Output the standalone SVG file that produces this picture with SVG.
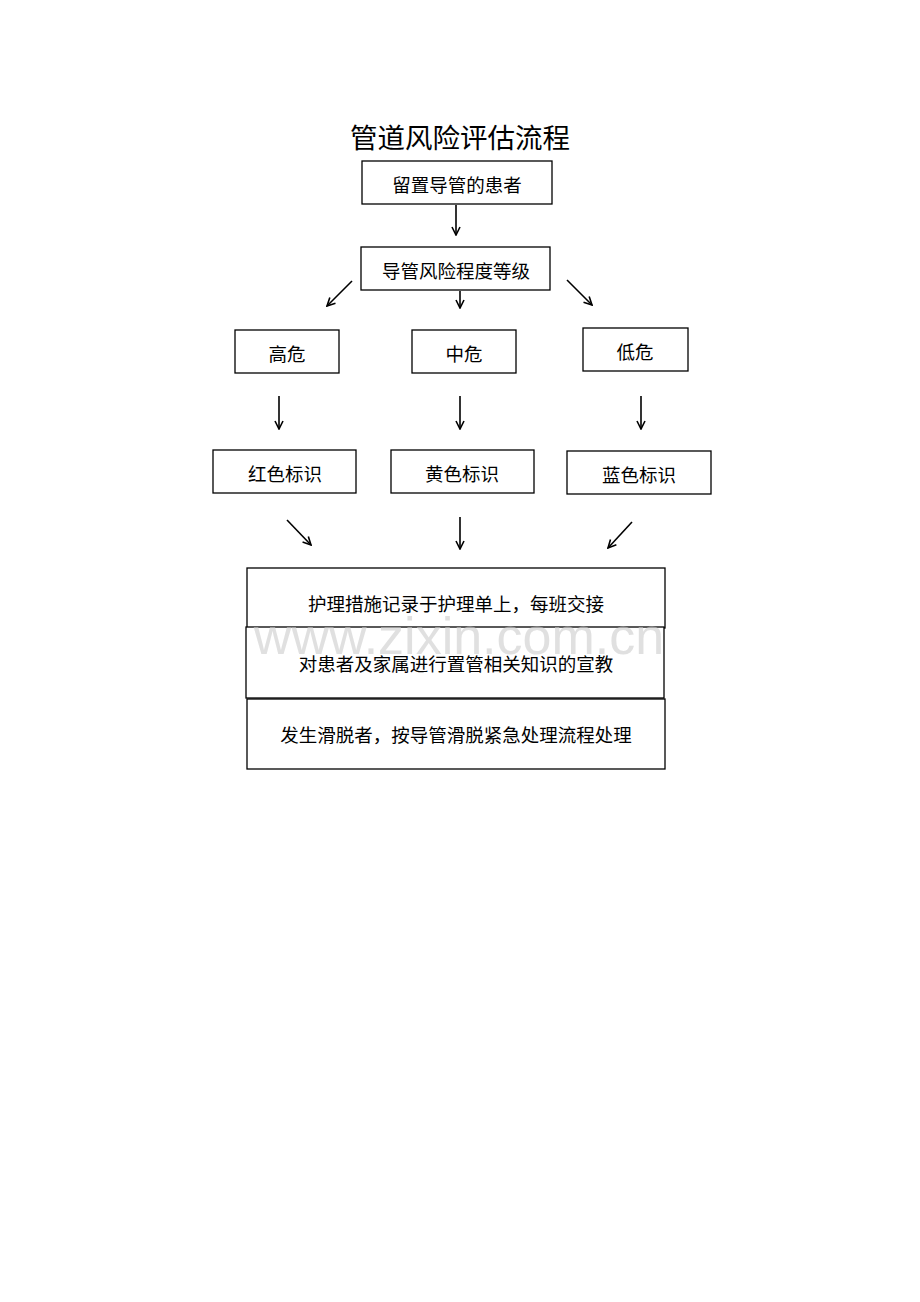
<svg xmlns="http://www.w3.org/2000/svg" width="920" height="1302" viewBox="0 0 920 1302">
<style>
.b{fill:#fff;stroke:#000;stroke-width:1.3}
.t{font-family:"Noto Sans CJK SC","Liberation Serif",serif;font-size:18.5px;text-anchor:middle;dominant-baseline:central;fill:#000}
.c line{stroke:#000;stroke-width:1.6;marker-end:url(#a)}
</style>
<defs><marker id="a" markerWidth="10" markerHeight="10" refX="9" refY="5" orient="auto" markerUnits="userSpaceOnUse"><path d="M1,1 L9,5 L1,9" fill="none" stroke="#000" stroke-width="1.6"/></marker></defs>
<rect width="920" height="1302" fill="#fff"/>
<text x="460" y="136" style="font-family:'Noto Sans CJK SC',sans-serif;font-size:27.5px;text-anchor:middle;dominant-baseline:central">管道风险评估流程</text>
<g id="n1"><rect class="b" x="362" y="161" width="190" height="43"/><text class="t" x="457" y="184">留置导管的患者</text></g>
<g id="n2"><rect class="b" x="361" y="247" width="189" height="43"/><text class="t" x="456" y="270">导管风险程度等级</text></g>
<g id="n3"><rect class="b" x="235" y="330" width="104" height="43"/><text class="t" x="287" y="353">高危</text></g>
<g id="n4"><rect class="b" x="412" y="330" width="104" height="43"/><text class="t" x="464" y="353">中危</text></g>
<g id="n5"><rect class="b" x="583" y="328" width="105" height="43"/><text class="t" x="635" y="351">低危</text></g>
<g id="n6"><rect class="b" x="213" y="450" width="143" height="43"/><text class="t" x="285" y="473">红色标识</text></g>
<g id="n7"><rect class="b" x="391" y="450" width="143" height="43"/><text class="t" x="462" y="473">黄色标识</text></g>
<g id="n8"><rect class="b" x="567" y="451" width="144" height="43"/><text class="t" x="639" y="474">蓝色标识</text></g>
<g id="n9"><rect class="b" x="247" y="568" width="418" height="60"/><text class="t" x="456" y="603">护理措施记录于护理单上，每班交接</text></g>
<g id="n10"><rect class="b" x="246" y="627" width="418" height="71"/><text class="t" x="456" y="663">对患者及家属进行置管相关知识的宣教</text></g>
<g id="n11"><rect class="b" x="247" y="699" width="418" height="70"/><text class="t" x="456" y="734">发生滑脱者，按导管滑脱紧急处理流程处理</text></g>
<g class="c">
<line x1="456" y1="205" x2="456" y2="235"/>
<line x1="352" y1="281" x2="327" y2="306"/>
<line x1="460" y1="291" x2="460" y2="308"/>
<line x1="567" y1="280" x2="592" y2="305"/>
<line x1="279" y1="396" x2="279" y2="429"/>
<line x1="460" y1="396" x2="460" y2="429"/>
<line x1="641" y1="396" x2="641" y2="429"/>
<line x1="287" y1="520" x2="311" y2="545"/>
<line x1="460" y1="517" x2="460" y2="549"/>
<line x1="632" y1="522" x2="608" y2="548"/>
</g>
<text x="459" y="636" style="font-family:'Liberation Sans',sans-serif;font-size:52px;text-anchor:middle;dominant-baseline:central;fill:#ccc;fill-opacity:0.6">www.zixin.com.cn</text>
</svg>
